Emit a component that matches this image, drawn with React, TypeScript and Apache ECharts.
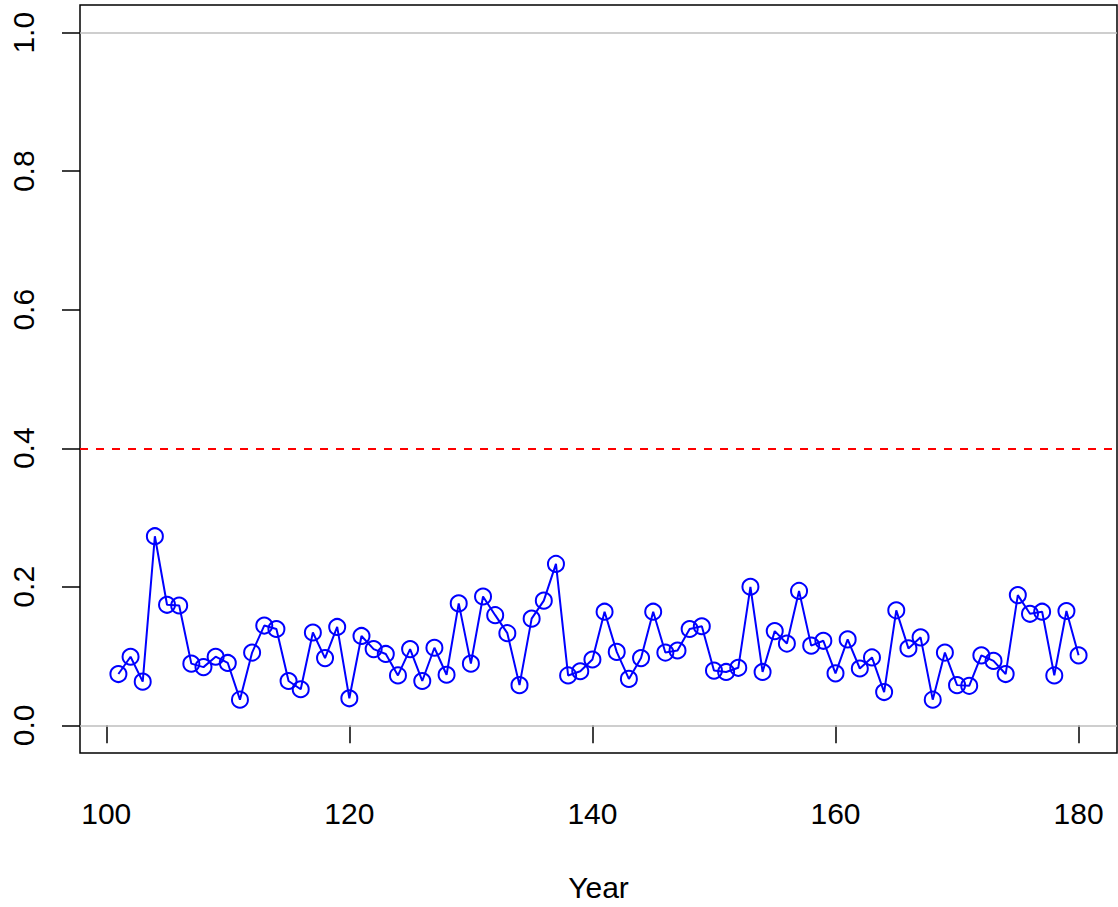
import React, { useEffect, useRef } from "react";
import * as echarts from "echarts";

const years: number[] = [];
for (let y = 101; y <= 180; y++) years.push(y);

const values = [
  0.074, 0.099, 0.063, 0.273, 0.174, 0.173, 0.089, 0.084, 0.099, 0.090,
  0.037, 0.105, 0.144, 0.139, 0.064, 0.052, 0.134, 0.097, 0.142, 0.039,
  0.129, 0.110, 0.103, 0.072, 0.110, 0.064, 0.112, 0.073, 0.176, 0.089,
  0.186, 0.159, 0.133, 0.058, 0.154, 0.180, 0.233, 0.072, 0.078, 0.095,
  0.164, 0.106, 0.067, 0.097, 0.164, 0.105, 0.108, 0.139, 0.143, 0.079,
  0.077, 0.083, 0.200, 0.077, 0.136, 0.118, 0.194, 0.115, 0.122, 0.075,
  0.124, 0.082, 0.098, 0.048, 0.166, 0.111, 0.127, 0.037, 0.105, 0.058,
  0.057, 0.101, 0.093, 0.074, 0.188, 0.161, 0.164, 0.072, 0.165, 0.101,
];

const xTicks = [100, 120, 140, 160, 180];
const yTicks = [0, 0.2, 0.4, 0.6, 0.8, 1.0];
const refLines = [0, 1];
const threshold = 0.4;
const xLabel = "Year";

const FONT = '"Liberation Sans", Arial, Helvetica, sans-serif';

export default function App() {
  const ref = useRef<HTMLDivElement>(null);
  useEffect(() => {
    if (!ref.current) return;
    const chart = echarts.init(ref.current, null, { renderer: "svg" });
    const data = years.map((y, i) => [y, values[i]]);
    chart.setOption({
      animation: false,
      backgroundColor: "#ffffff",
      grid: {
        left: 80,
        right: 1,
        top: 5,
        bottom: 154,
        show: true,
        borderColor: "#000000",
        borderWidth: 1.5,
        backgroundColor: "transparent",
      },
      xAxis: {
        type: "value",
        min: 97.84,
        max: 183.16,
        name: xLabel,
        nameLocation: "middle",
        nameGap: 119,
        nameTextStyle: { fontFamily: FONT, fontSize: 30, color: "#000" },
        axisLine: { show: false },
        splitLine: { show: false },
        axisTick: {
          show: true,
          length: 18,
          customValues: xTicks,
          lineStyle: { color: "#000", width: 1.5 },
        },
        axisLabel: {
          customValues: xTicks,
          margin: 45,
          fontFamily: FONT,
          fontSize: 30,
          color: "#000",
          formatter: (v: number) => String(v),
        },
      },
      yAxis: {
        type: "value",
        min: -0.04,
        max: 1.04,
        axisLine: { show: false },
        splitLine: { show: false },
        axisTick: {
          show: true,
          length: 18,
          customValues: yTicks,
          lineStyle: { color: "#000", width: 1.5 },
        },
        axisLabel: {
          customValues: yTicks,
          rotate: 90,
          margin: 42,
          fontFamily: FONT,
          fontSize: 30,
          color: "#000",
          formatter: (v: number) => v.toFixed(1),
        },
      },
      series: [
        {
          type: "line",
          data,
          symbol: "circle",
          symbolSize: 16,
          lineStyle: { color: "#0000ff", width: 2 },
          itemStyle: { color: "transparent", borderColor: "#0000ff", borderWidth: 2 },
          z: 5,
          markLine: {
            silent: true,
            symbol: "none",
            label: { show: false },
            data: [
              ...refLines.map((v) => ({
                yAxis: v,
                lineStyle: { color: "#bebebe", width: 1.5, type: "solid" },
              })),
              {
                yAxis: threshold,
                lineStyle: { color: "#ff0000", width: 1.8, type: [8, 8] },
              },
            ],
          },
        },
      ],
    });
    return () => chart.dispose();
  }, []);
  return (
    <div
      ref={ref}
      style={{ position: "fixed", left: 0, top: 0, width: 1118, height: 907, background: "#fff" }}
    />
  );
}
